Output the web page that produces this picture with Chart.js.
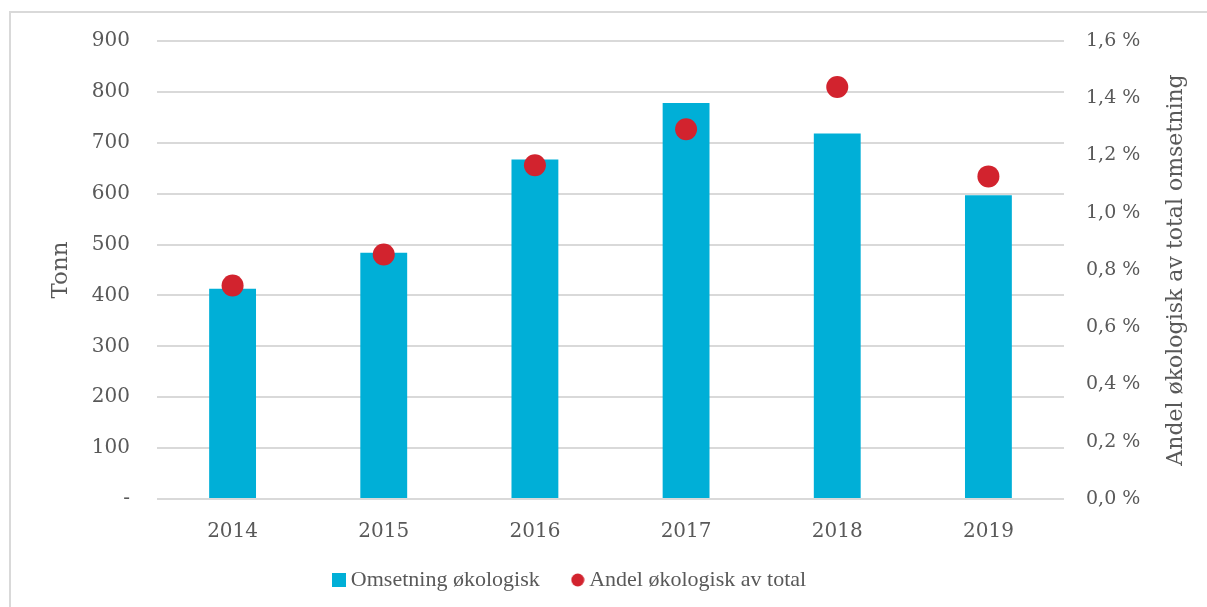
<!DOCTYPE html>
<html>
<head>
<meta charset="utf-8">
<script src="https://cdn.jsdelivr.net/npm/chart.js@4.4.1/dist/chart.umd.min.js"></script>
<style>
  body { margin: 0; background: #fff; overflow: hidden; }
  #frame { position: absolute; left: 9px; top: 11px; width: 1220px; height: 700px; border: 2px solid #d9d9d9; }
  #chart { position: absolute; left: 0; top: 0; }
</style>
</head>
<body>
<div id="frame"></div>
<canvas id="chart" width="1207" height="607"></canvas>
<script>
var years = ['2014', '2015', '2016', '2017', '2018', '2019']
var omsetning = [413, 484, 667, 778, 718, 597]      // tonn
var andel = [0.746, 0.854, 1.166, 1.292, 1.439, 1.127] // prosent
var serif = '"DejaVu Serif", Georgia, serif'
var textColor = '#595959'
var blue = '#00afd7'
var red = '#d2232e'

// small legend markers
function marker(kind, color) {
    var c = document.createElement('canvas')
    c.width = 14
    c.height = 14
    var g = c.getContext('2d')
    g.fillStyle = color
    if (kind === 'rect') {
        g.fillRect(0, 0, 14, 14)
    } else {
        g.beginPath()
        g.arc(7, 7, 6.5, 0, Math.PI * 2)
        g.fill()
    }
    return c
}
var legendIcons = [marker('rect', blue), marker('circle', red)]

var extras = {
    id: 'extras',
    afterLayout: function (chart) {
        // legend sits a bit left of centre in the original
        chart.legend.left -= 31
        chart.legend.right -= 31
    },
    // right axis title reads bottom-to-top like the original
    afterDraw: function (chart) {
        var a = chart.chartArea
        var c = chart.ctx
        c.save()
        c.translate(1176, (a.top + a.bottom) / 2)
        c.rotate(-Math.PI / 2)
        c.fillStyle = textColor
        c.font = '22px ' + serif
        c.textAlign = 'center'
        c.textBaseline = 'middle'
        c.fillText('Andel økologisk av total omsetning', 0, 0)
        c.restore()
    }
}

var ctx = document.getElementById('chart').getContext('2d')
var myChart = new Chart(ctx, {
    data: {
        labels: years,
        datasets: [{
            type: 'bar',
            label: 'Omsetning økologisk',
            data: omsetning,
            backgroundColor: blue,
            barPercentage: 0.31,
            categoryPercentage: 1,
            yAxisID: 'y',
            order: 2
        }, {
            type: 'line',
            label: 'Andel økologisk av total',
            data: andel,
            showLine: false,
            pointStyle: 'circle',
            pointRadius: 11,
            pointHoverRadius: 11,
            backgroundColor: red,
            borderColor: red,
            borderWidth: 0,
            yAxisID: 'y1',
            order: 1
        }]
    },
    plugins: [extras],
    options: {
        responsive: false,
        animation: false,
        layout: { padding: { top: 41, bottom: 6, left: 0, right: 0 } },
        plugins: {
            tooltip: { enabled: false },
            legend: {
                position: 'bottom',
                labels: {
                    usePointStyle: true,
                    pointStyleWidth: 1,
                    boxWidth: 14,
                    boxHeight: 14,
                    padding: 10,
                    color: textColor,
                    font: { family: '"Liberation Serif", serif', size: 22 },
                    generateLabels: function (chart) {
                        return chart.data.datasets.map(function (ds, i) {
                            return {
                                // trailing spaces widen the gap between the two items
                                text: i === 0 ? ds.label + '     ' : ds.label,
                                pointStyle: legendIcons[i],
                                fontColor: textColor,
                                lineWidth: 0,
                                datasetIndex: i
                            }
                        })
                    }
                }
            }
        },
        scales: {
            x: {
                grid: { display: false },
                border: { display: false },
                ticks: { color: textColor, padding: 13, font: { family: serif, size: 20 } },
                afterFit: function (s) { s.height = 60 }
            },
            y: {
                position: 'left',
                min: 0,
                max: 900,
                ticks: {
                    stepSize: 100,
                    padding: 27,
                    color: textColor,
                    font: { family: serif, size: 20 },
                    callback: function (v) { return v === 0 ? '-' : v }
                },
                grid: { color: '#d9d9d9', lineWidth: 2, drawTicks: false },
                border: { display: false },
                title: {
                    display: true,
                    text: 'Tonn',
                    color: textColor,
                    font: { family: serif, size: 23 },
                    padding: { top: 47, bottom: 0 }
                },
                afterFit: function (s) { s.width = 157 }
            },
            y1: {
                position: 'right',
                min: 0,
                max: 1.6,
                ticks: {
                    stepSize: 0.2,
                    padding: 22,
                    color: textColor,
                    font: { family: serif, size: 19 },
                    callback: function (v) { return v.toFixed(1).replace('.', ',') + ' %' }
                },
                grid: { display: false, drawTicks: false },
                border: { display: false },
                afterFit: function (s) { s.width = 143 }
            }
        }
    }
})
</script>
</body>
</html>
